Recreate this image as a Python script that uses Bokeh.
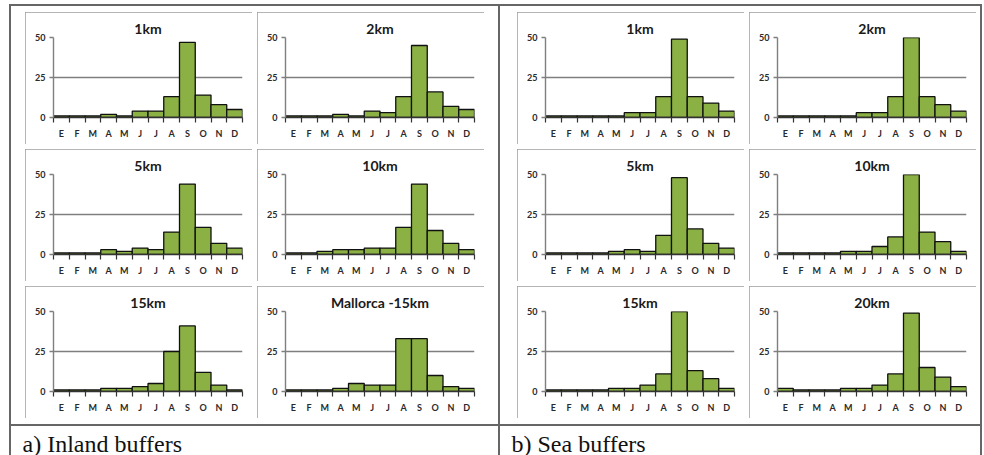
from bokeh.plotting import figure
from bokeh.layouts import row, column
from bokeh.models import Spacer, FixedTicker, Label, Range1d
from bokeh.embed import file_html
from bokeh.resources import INLINE

# ---------------- data ----------------
months = ["E", "F", "M", "A", "M", "J", "J", "A", "S", "O", "N", "D"]
month_pos = list(range(1, 13))
y_ticks = [0, 25, 50]

inland_titles = ["1km", "2km", "5km", "10km", "15km", "Mallorca -15km"]
inland_1km = [1, 1, 1, 2, 1, 4, 4, 13, 47, 14, 8, 5]
inland_2km = [1, 1, 1, 2, 1, 4, 3, 13, 45, 16, 7, 5]
inland_5km = [1, 1, 1, 3, 2, 4, 3, 14, 44, 17, 7, 4]
inland_10km = [1, 1, 2, 3, 3, 4, 4, 17, 44, 15, 7, 3]
inland_15km = [1, 1, 1, 2, 2, 3, 5, 25, 41, 12, 4, 1]
mallorca_15km = [1, 1, 1, 2, 5, 4, 4, 33, 33, 10, 3, 2]

sea_titles = ["1km", "2km", "5km", "10km", "15km", "20km"]
sea_1km = [1, 1, 1, 1, 1, 3, 3, 13, 49, 13, 9, 4]
sea_2km = [1, 1, 1, 1, 1, 3, 3, 13, 50, 13, 8, 4]
sea_5km = [1, 1, 1, 1, 2, 3, 2, 12, 48, 16, 7, 4]
sea_10km = [1, 1, 1, 1, 2, 2, 5, 11, 50, 14, 8, 2]
sea_15km = [1, 1, 1, 1, 2, 2, 4, 11, 50, 13, 8, 2]
sea_20km = [2, 1, 1, 1, 2, 2, 4, 11, 49, 15, 9, 3]

inland_series = [inland_1km, inland_2km, inland_5km, inland_10km, inland_15km, mallorca_15km]
sea_series = [sea_1km, sea_2km, sea_5km, sea_10km, sea_15km, sea_20km]
cell_labels = ["a) Inland buffers", "b) Sea buffers"]

# ---------------- styling ----------------
BAR_COLOR = "#8bb043"
GRID_COLOR = "#7f7f7f"
LINE_COLOR = "#666666"
PANEL_BORDER = "2px solid #9c9c9c"
PW, PH = 227, 132


def panel(title, values):
    p = figure(width=PW, height=PH, x_range=Range1d(0.5, 12.5), y_range=Range1d(0, 50),
               output_backend="svg", toolbar_location=None, title=title,
               min_border_left=28, min_border_right=10, min_border_top=25, min_border_bottom=27,
               styles={"outline": PANEL_BORDER, "outline-offset": "-2px"})
    p.title.align = "center"
    p.title.text_font = "Lato"
    p.title.text_font_size = "14px"
    p.title.text_font_style = "bold"
    p.title.text_color = "#1a1a1a"
    p.title.standoff = 2
    p.outline_line_color = None
    p.background_fill_color = "white"
    p.border_fill_color = "white"

    p.vbar(x=month_pos, top=values, bottom=0, width=1.0, fill_color=BAR_COLOR,
           line_color="#111111", line_width=1.3)

    # y axis
    yax = p.yaxis[0]
    yax.ticker = FixedTicker(ticks=y_ticks)
    yax.axis_line_color = GRID_COLOR
    yax.axis_line_width = 1.4
    yax.major_tick_line_color = GRID_COLOR
    yax.major_tick_line_width = 1.4
    yax.major_tick_out = 4
    yax.major_tick_in = 0
    yax.minor_tick_line_color = None
    yax.major_label_text_font = "Lato"
    yax.major_label_text_font_size = "9px"
    yax.major_label_text_font_style = "bold"
    yax.major_label_text_color = "#2a2a2a"
    yax.major_label_standoff = 4

    # x axis: labels at category centres, tick marks at category boundaries
    xax = p.xaxis[0]
    xax.ticker = FixedTicker(ticks=month_pos, minor_ticks=[i + 0.5 for i in range(0, 13)])
    xax.major_label_overrides = {pos: m for pos, m in zip(month_pos, months)}
    xax.major_tick_line_color = None
    xax.major_tick_out = 5
    xax.major_tick_in = 0
    xax.minor_tick_line_color = "#333333"
    xax.minor_tick_line_width = 1.2
    xax.minor_tick_out = 5
    xax.minor_tick_in = 0
    xax.axis_line_color = "#333333"
    xax.axis_line_width = 1.4
    xax.major_label_text_font = "Lato"
    xax.major_label_text_font_size = "9px"
    xax.major_label_text_font_style = "bold"
    xax.major_label_text_color = "#2a2a2a"
    xax.major_label_standoff = 5

    p.xgrid.visible = False
    p.ygrid.ticker = FixedTicker(ticks=[25, 50])
    p.ygrid.grid_line_color = GRID_COLOR
    p.ygrid.grid_line_width = 1.5
    return p


def grid_of(titles, series):
    plots = [panel(t, s) for t, s in zip(titles, series)]
    rows = [row(plots[i], plots[i + 1], spacing=5) for i in range(0, 6, 2)]
    return column(*rows, spacing=5)


def label_fig(text, w, x_off):
    p = figure(width=w, height=29, x_range=Range1d(0, w), y_range=Range1d(0, 29),
               output_backend="svg", toolbar_location=None,
               x_axis_location=None, y_axis_location=None,
               min_border=0, min_border_left=0, min_border_right=0,
               min_border_top=0, min_border_bottom=0)
    p.grid.visible = False
    p.outline_line_color = None
    p.add_layout(Label(x=x_off, y=12, text=text, text_font="Liberation Serif",
                       text_font_size="24px", text_color="#111111",
                       text_baseline="alphabetic"))
    return p


def hline(w):
    return Spacer(width=w, height=2, styles={"background-color": LINE_COLOR})


def vline(h):
    return Spacer(width=2, height=h, styles={"background-color": LINE_COLOR})


LW, RW = 487, 480
left_cell = column(
    hline(LW),
    Spacer(width=LW, height=6),
    row(Spacer(width=14, height=10), grid_of(inland_titles, inland_series)),
    Spacer(width=LW, height=6),
    hline(LW),
    label_fig(cell_labels[0], LW, 11),
)
right_cell = column(
    hline(RW),
    Spacer(width=RW, height=6),
    row(Spacer(width=17, height=10), grid_of(sea_titles, sea_series)),
    Spacer(width=RW, height=6),
    hline(RW),
    label_fig(cell_labels[1], RW, 11),
)

H = 451
root = column(
    Spacer(width=980, height=4),
    row(Spacer(width=9, height=10), vline(H), left_cell, vline(H), right_cell, vline(H)),
)

open("out.html", "w").write(file_html(root, INLINE))
